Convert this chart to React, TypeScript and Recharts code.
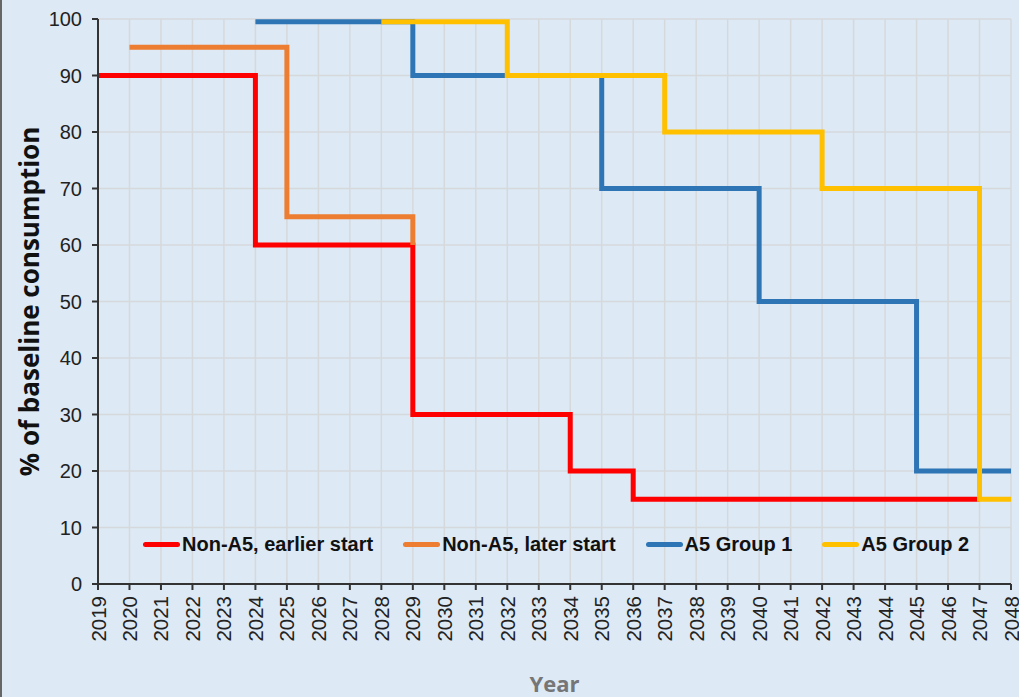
import {
  LineChart,
  Line,
  XAxis,
  YAxis,
  CartesianGrid,
} from "recharts";

const years = [
  "2019", "2020", "2021", "2022", "2023", "2024", "2025", "2026", "2027", "2028",
  "2029", "2030", "2031", "2032", "2033", "2034", "2035", "2036", "2037", "2038",
  "2039", "2040", "2041", "2042", "2043", "2044", "2045", "2046", "2047", "2048",
];

// step values per year (value holds until the next change)
const nonA5Earlier = [
  90, 90, 90, 90, 90, 60, 60, 60, 60, 60,
  30, 30, 30, 30, 30, 20, 20, 15, 15, 15,
  15, 15, 15, 15, 15, 15, 15, 15, 15, null,
];
const nonA5Later = [
  null, 95, 95, 95, 95, 95, 65, 65, 65, 65,
  60, null, null, null, null, null, null, null, null, null,
  null, null, null, null, null, null, null, null, null, null,
];
const a5Group1 = [
  null, null, null, null, null, 99.5, 99.5, 99.5, 99.5, 99.5,
  90, 90, 90, 90, 90, 90, 70, 70, 70, 70,
  70, 50, 50, 50, 50, 50, 20, 20, 20, 20,
];
const a5Group2 = [
  null, null, null, null, null, null, null, null, null, 99.5,
  99.5, 99.5, 99.5, 90, 90, 90, 90, 90, 80, 80,
  80, 80, 80, 70, 70, 70, 70, 70, 15, 15,
];

const yTicks = [0, 10, 20, 30, 40, 50, 60, 70, 80, 90, 100];

const series = [
  { key: "earlier", name: "Non-A5, earlier start", color: "#ff0000" },
  { key: "later", name: "Non-A5, later start", color: "#ed7d31" },
  { key: "g1", name: "A5 Group 1", color: "#2e75b6" },
  { key: "g2", name: "A5 Group 2", color: "#ffc000" },
];

const data = years.map((year, i) => ({
  year,
  earlier: nonA5Earlier[i],
  later: nonA5Later[i],
  g1: a5Group1[i],
  g2: a5Group2[i],
}));

const FONT = "'Liberation Sans', Arial, sans-serif";

function YearTick(props: any) {
  const { x, y, payload } = props;
  return (
    <text
      x={x}
      y={y}
      transform={`rotate(-90, ${x}, ${y})`}
      textAnchor="end"
      dominantBaseline="central"
      fontSize={20.5}
      fontFamily={FONT}
      fill="#222"
    >
      {payload.value}
    </text>
  );
}

export default function App() {
  return (
    <div
      style={{
        position: "fixed",
        top: 0,
        left: 0,
        width: 1019,
        height: 697,
        background: "#dde9f5",
        boxSizing: "border-box",
        borderLeft: "2px solid #666",
        overflow: "hidden",
      }}
    >
      <LineChart
        width={1017}
        height={697}
        data={data}
        margin={{ top: 19, right: 8, bottom: 0, left: 0 }}
      >
        <CartesianGrid stroke="#d6d9dc" strokeWidth={1.5} />
        <XAxis
          dataKey="year"
          interval={0}
          tick={<YearTick />}
          tickSize={6}
          tickMargin={6}
          height={113}
          stroke="#333"
          strokeWidth={2}
          label={{
            value: "Year",
            position: "insideBottom",
            offset: 5,
            style: {
              fontFamily: "'Open Sans', sans-serif",
              fontWeight: "bold",
              fontSize: 22,
              fill: "#767676",
            },
          }}
        />
        <YAxis
          domain={[0, 100]}
          ticks={yTicks}
          width={96}
          tickSize={6}
          tickMargin={10}
          stroke="#333"
          strokeWidth={2}
          allowDataOverflow
          tick={{ fontSize: 20, fontFamily: FONT, fill: "#222" }}
          label={{
            value: "% of baseline consumption",
            angle: -90,
            position: "insideLeft",
            offset: 28,
            style: {
              textAnchor: "middle",
              fontFamily: "'Open Sans', sans-serif",
              fontWeight: "bold",
              fontSize: 26,
              fill: "#111",
            },
          }}
        />
        {series.map((s) => (
          <Line
            key={s.key}
            type="stepAfter"
            dataKey={s.key}
            name={s.name}
            stroke={s.color}
            strokeWidth={5}
            dot={false}
            activeDot={false}
            isAnimationActive={false}
          />
        ))}
      </LineChart>

      {/* legend sits inside the plot, above the x axis */}
      <div
        style={{
          position: "absolute",
          top: 533,
          left: 141,
          display: "flex",
          gap: 30,
          alignItems: "center",
        }}
      >
        {series.map((s) => (
          <div key={s.key} style={{ display: "flex", alignItems: "center" }}>
            <span
              style={{
                display: "inline-block",
                width: 37,
                height: 5,
                borderRadius: 3,
                background: s.color,
                marginRight: 2,
              }}
            />
            <span
              style={{
                fontFamily: FONT,
                fontWeight: "bold",
                fontSize: 20,
                color: "#111",
                whiteSpace: "nowrap",
              }}
            >
              {s.name}
            </span>
          </div>
        ))}
      </div>
    </div>
  );
}
